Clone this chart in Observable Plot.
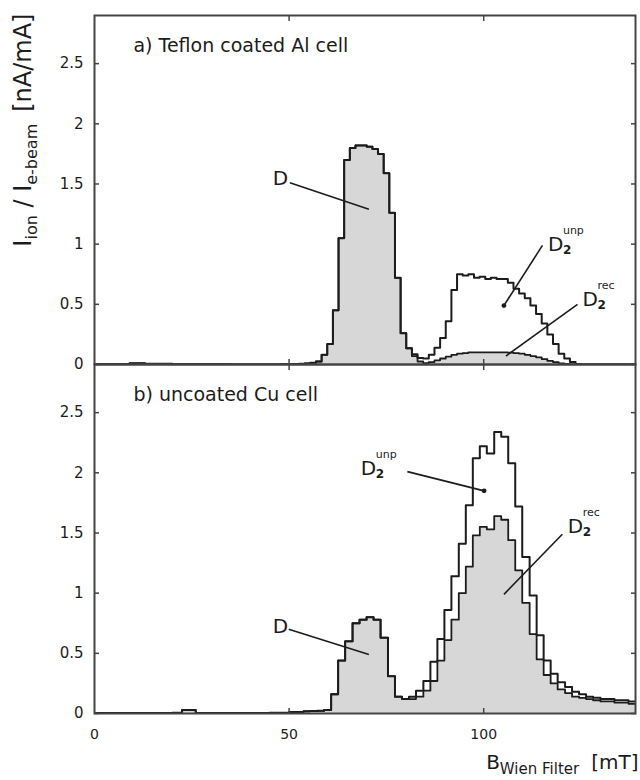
<!DOCTYPE html>
<html><head><meta charset="utf-8">
<script src="https://cdn.jsdelivr.net/npm/d3@7"></script>
<script src="https://cdn.jsdelivr.net/npm/@observablehq/plot@0.6"></script>
<style>body{margin:0;background:#fff;} #chart svg{display:block}</style>
</head><body><div id="chart"></div>
<script>
// ---- data ----
const panels = ["a", "b"];
const panelTitles = ["a) Teflon coated Al cell", "b) uncoated Cu cell"];
const titleX = [10, 10];
const titleY = [2.6, 2.6];

// panel a: bin left edges (mT) and heights
const topX = [0, 9, 13, 20, 35, 48, 51.1, 52.55, 54.0, 55.45, 56.9, 58.35, 59.8, 61.25, 62.7, 64.15, 65.6, 67.05, 68.5, 69.95, 71.4, 72.85, 74.3, 75.75, 77.2, 78.65, 80.1, 81.55, 83.0, 84.45, 85.9, 87.35, 88.8, 90.25, 91.7, 93.15, 94.6, 96.05, 97.5, 98.95, 100.4, 101.85, 103.3, 104.75, 106.2, 107.65, 109.1, 110.55, 112.0, 113.45, 114.9, 116.35, 117.8, 119.25, 120.7, 122.15, 123.6, 125.05, 139];
const topUnp = [0.003, 0.01, 0.006, 0.002, 0, 0.003, 0.004, 0.006, 0.009, 0.014, 0.025, 0.08, 0.17, 0.45, 1.05, 1.70, 1.80, 1.82, 1.82, 1.81, 1.79, 1.75, 1.59, 1.26, 0.72, 0.26, 0.135, 0.085, 0.055, 0.05, 0.08, 0.14, 0.22, 0.36, 0.62, 0.75, 0.74, 0.75, 0.72, 0.73, 0.71, 0.72, 0.71, 0.71, 0.68, 0.63, 0.59, 0.55, 0.49, 0.42, 0.34, 0.25, 0.17, 0.09, 0.05, 0.02, 0.005, 0, 0];
const topRec = [0.003, 0.01, 0.006, 0.002, 0, 0.003, 0.004, 0.006, 0.009, 0.014, 0.025, 0.08, 0.17, 0.45, 1.05, 1.70, 1.80, 1.82, 1.82, 1.81, 1.79, 1.75, 1.59, 1.26, 0.72, 0.26, 0.135, 0.07, 0.025, 0.012, 0.02, 0.035, 0.05, 0.065, 0.08, 0.09, 0.095, 0.1, 0.1, 0.1, 0.1, 0.1, 0.1, 0.1, 0.098, 0.095, 0.09, 0.08, 0.07, 0.06, 0.045, 0.03, 0.02, 0.01, 0.005, 0, 0, 0, 0];

// panel b
const botX = [0, 10, 20, 22.5, 26, 35, 45, 50, 53.7, 55.3, 57.2, 59.0, 60.8, 62.6, 64.4, 66.3, 68.1, 69.9, 71.7, 73.5, 75.4, 77.2, 79.0, 80.8, 82.6, 84.5, 86.3, 88.1, 89.9, 91.7, 93.6, 95.4, 97.2, 99.0, 100.8, 102.7, 104.5, 106.3, 108.1, 109.9, 111.8, 113.6, 115.4, 117.2, 119.0, 120.9, 122.7, 124.5, 126.3, 128.1, 130.0, 131.8, 133.6, 135.4, 137.2, 139.1];
const botUnp = [0.005, 0.004, 0.006, 0.03, 0.005, 0.004, 0.006, 0.012, 0.018, 0.02, 0.022, 0.03, 0.16, 0.44, 0.60, 0.75, 0.78, 0.80, 0.78, 0.63, 0.31, 0.14, 0.12, 0.14, 0.19, 0.27, 0.43, 0.62, 0.86, 1.14, 1.41, 1.73, 2.12, 2.22, 2.16, 2.34, 2.30, 2.08, 1.72, 1.30, 0.98, 0.65, 0.44, 0.33, 0.26, 0.22, 0.18, 0.16, 0.14, 0.13, 0.12, 0.12, 0.11, 0.11, 0.10, 0.10];
const botRec = [0.005, 0.004, 0.006, 0.03, 0.005, 0.004, 0.006, 0.012, 0.018, 0.02, 0.022, 0.03, 0.16, 0.44, 0.60, 0.75, 0.78, 0.80, 0.78, 0.63, 0.31, 0.14, 0.12, 0.12, 0.14, 0.19, 0.27, 0.44, 0.61, 0.78, 1.00, 1.22, 1.48, 1.55, 1.53, 1.64, 1.61, 1.44, 1.19, 0.92, 0.66, 0.45, 0.32, 0.25, 0.20, 0.17, 0.14, 0.13, 0.12, 0.11, 0.10, 0.10, 0.09, 0.09, 0.08, 0.08];

const yTicks = [0, 0.5, 1, 1.5, 2, 2.5];
const xTicks = [0, 50, 100];
const xInnerTicks = [50, 100];

// peak labels
const labelPanel = ["a", "a", "a", "b", "b", "b"];
const labelMain = ["D", "D", "D", "D", "D", "D"];
const labelSub = ["", "2", "2", "", "2", "2"];
const labelSup = ["", "unp", "rec", "", "unp", "rec"];
const labelX = [45.8, 116.5, 125.4, 45.8, 68.4, 121.6];
const labelY = [1.49, 0.94, 0.49, 0.67, 1.98, 1.50];
// pointer lines
const ptrX1 = [50.2, 115.1, 124.1, 49.9, 80.4, 120.2];
const ptrY1 = [1.51, 0.99, 0.50, 0.70, 2.01, 1.49];
const ptrX2 = [70.5, 105.2, 105.7, 70.5, 100.1, 105.2];
const ptrY2 = [1.29, 0.49, 0.07, 0.49, 1.85, 0.99];
const ptrDot = [false, true, false, false, true, false];

// ---- tables ----
const rows = (panel, xs, ys) => xs.map((x, i) => ({panel, x, y: ys[i]}));
const unp = [...rows("a", topX, topUnp), ...rows("b", botX, botUnp)];
const rec = [...rows("a", topX, topRec), ...rows("b", botX, botRec)];
const titles = panels.map((p, i) => ({panel: p, text: panelTitles[i], x: titleX[i], y: titleY[i]}));
const labels = labelPanel.map((p, i) => ({panel: p, main: labelMain[i], sub: labelSub[i], sup: labelSup[i], x: labelX[i], y: labelY[i]}));
const ptrs = labelPanel.map((p, i) => ({panel: p, x1: ptrX1[i], y1: ptrY1[i], x2: ptrX2[i], y2: ptrY2[i], dot: ptrDot[i]}));

const ink = "#1c1c1c";
const font = "'DejaVu Sans', sans-serif";

const plot = Plot.plot({
  width: 640, height: 780,
  marginTop: 15, marginBottom: 67, marginLeft: 94, marginRight: 5,
  style: {fontFamily: font, color: ink, background: "#fff", overflow: "visible"},
  x: {domain: [0, 139], label: null},
  y: {domain: [0, 2.9], label: null},
  fy: {domain: panels, padding: 0, axis: null, label: null},
  marks: [
    Plot.areaY(rec, {x: "x", y: "y", fy: "panel", curve: "step-after", fill: "#d7d7d7", clip: true}),
    Plot.lineY(rec, {x: "x", y: "y", fy: "panel", curve: "step-after", stroke: ink, strokeWidth: 1.8, clip: true}),
    Plot.lineY(unp, {x: "x", y: "y", fy: "panel", curve: "step-after", stroke: ink, strokeWidth: 2, clip: true}),
    Plot.frame({stroke: "#444", strokeWidth: 2}),
    Plot.axisY({ticks: yTicks, tickSize: -5, tickPadding: 16, tickFormat: d => String(d), fontSize: 15, label: null, stroke: "#444", strokeWidth: 1.5}),
    Plot.axisY({anchor: "right", ticks: yTicks, tickSize: -5, tickFormat: () => "", label: null, stroke: "#444", strokeWidth: 1.5}),
    Plot.axisX({ticks: xTicks, tickSize: 0, tickPadding: 16, tickFormat: d => String(d), fontSize: 14, label: null}),
    Plot.axisX({anchor: "bottom", ticks: xInnerTicks, tickSize: -5, tickFormat: () => "", facetAnchor: null, label: null, stroke: "#444", strokeWidth: 1.5}),
    Plot.axisX({anchor: "top", ticks: xInnerTicks, tickSize: -5, tickFormat: () => "", facetAnchor: null, label: null, stroke: "#444", strokeWidth: 1.5}),
    Plot.text(titles, {x: "x", y: "y", fy: "panel", text: "text", textAnchor: "start", lineAnchor: "bottom", fontSize: 19, fill: ink}),
    Plot.link(ptrs, {x1: "x1", y1: "y1", x2: "x2", y2: "y2", fy: "panel", stroke: ink, strokeWidth: 1.6}),
    Plot.dot(ptrs.filter(d => d.dot), {x: "x2", y: "y2", fy: "panel", r: 2.4, fill: ink, stroke: "none"}),
    Plot.text(labels, {x: "x", y: "y", fy: "panel", text: "main", textAnchor: "start", lineAnchor: "bottom", fontSize: 20, fill: ink}),
    Plot.text(labels.filter(d => d.sub), {x: "x", y: "y", fy: "panel", text: "sub", textAnchor: "start", lineAnchor: "bottom", dx: 15, dy: 3, fontSize: 12, fontWeight: "bold", fill: ink}),
    Plot.text(labels.filter(d => d.sup), {x: "x", y: "y", fy: "panel", text: "sup", textAnchor: "start", lineAnchor: "bottom", dx: 15, dy: -17, fontSize: 11, fill: ink}),
    Plot.text([{panel: "a"}], {fy: "panel", frameAnchor: "top-left", text: () => "__YLABEL__", rotate: -90, textAnchor: "end", lineAnchor: "middle", dx: -71, dy: -2, fontSize: 24, fill: ink}),
    Plot.text([{panel: "b"}], {fy: "panel", frameAnchor: "bottom-right", text: () => "__XLABEL__", textAnchor: "end", lineAnchor: "bottom", dx: 3, dy: 55, fontSize: 20, fill: ink})
  ]
});

// rich axis titles (subscripts) built as real text
const root = d3.select(plot);
root.selectAll("text").filter(function() { return this.textContent === "__YLABEL__"; }).each(function() {
  const t = d3.select(this); t.text(null);
  t.append("tspan").text("I");
  t.append("tspan").attr("dy", 6).attr("font-size", 16).text("ion");
  t.append("tspan").attr("dy", -6).text(" / ");
  t.append("tspan").text("I");
  t.append("tspan").attr("dy", 6).attr("font-size", 16).text("e-beam");
  t.append("tspan").attr("dy", -6).attr("dx", 12).text("[nA/mA]");
});
root.selectAll("text").filter(function() { return this.textContent === "__XLABEL__"; }).each(function() {
  const t = d3.select(this); t.text(null);
  t.append("tspan").text("B");
  t.append("tspan").attr("dy", 5).attr("font-size", 15).text("Wien Filter");
  t.append("tspan").attr("dy", -5).attr("dx", 12).text("[mT]");
});

document.getElementById("chart").appendChild(plot);
</script>
</body></html>
